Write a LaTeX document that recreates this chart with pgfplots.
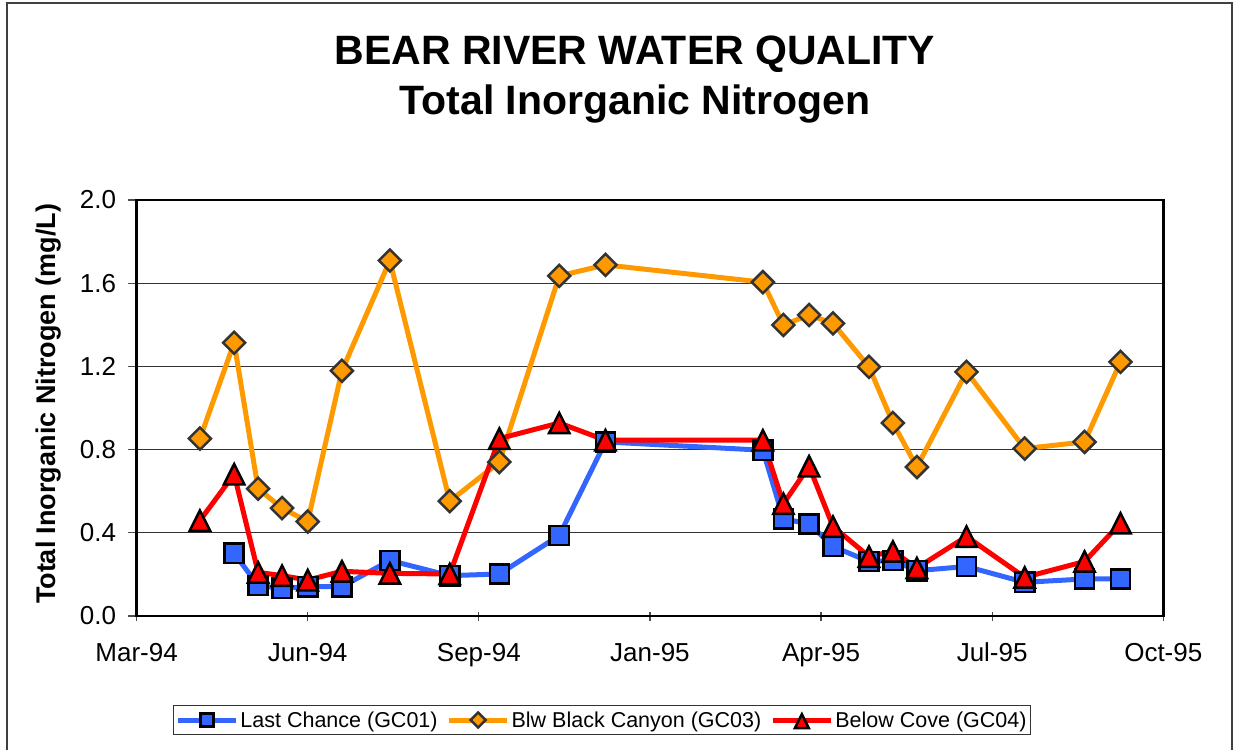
\documentclass[border=0pt]{standalone}
\usepackage{fontspec}
\setmainfont{Liberation Sans}
\usepackage{pgfplots}
\pgfplotsset{compat=1.18}
\definecolor{sblue}{HTML}{3366FF}
\definecolor{sorange}{HTML}{FF9900}
\definecolor{sred}{HTML}{FF0000}
\begin{document}
\begin{tikzpicture}[x=1pt,y=1pt]
\path[use as bounding box] (0,0) rectangle (1233,750);
\draw[line width=2pt, black!75] (6.5,0) -- (6.5,746.5) -- (1231.5,746.5) -- (1231.5,0);
\node[anchor=base, font=\fontsize{41}{46}\selectfont\bfseries] at (635,685) {BEAR RIVER WATER QUALITY};
\node[anchor=base, font=\fontsize{41}{46}\selectfont\bfseries] at (635,635) {Total Inorganic Nitrogen};
\node[rotate=90, anchor=center, font=\fontsize{27}{30}\selectfont\bfseries] at (49,346) {Total Inorganic Nitrogen (mg/L)};
\begin{axis}[
  at={(136.6pt,134pt)}, anchor=south west,
  width=1026.7pt, height=416pt, scale only axis,
  xmin=0, xmax=600, ymin=0, ymax=2.0,
  xtick={0,100,...,600},
  xticklabels={Mar-94,Jun-94,Sep-94,Jan-95,Apr-95,Jul-95,Oct-95},
  ytick={0,0.4,...,2.01},
  yticklabel style={/pgf/number format/fixed,/pgf/number format/fixed zerofill,/pgf/number format/precision=1, xshift=-8pt},
  /pgf/number format/assume math mode=true,
  tick label style={font=\fontsize{26}{30}\selectfont},
  axis line style={line width=2.5pt, black},
  ymajorgrids, grid style={line width=1.2pt, black!80},
  major tick length=9pt,
  tick pos=left,
  xtick align=center, ytick align=outside,
  tick style={line width=1.3pt, black!70},
  xticklabel style={text height=18.6pt, text depth=0pt, yshift=-18.8pt},
  legend columns=3,
  legend style={at={(0.4533,-0.25)}, anchor=center, draw=black!80, line width=1.5pt,
    font=\fontsize{21.5}{24}\selectfont, inner xsep=2pt, inner ysep=4pt,
    /tikz/every even column/.append style={column sep=7pt}},
  legend image code/.code={\draw[mark repeat=2,mark phase=2,every mark/.append style={scale=0.68}] plot coordinates {(0pt,0pt) (29pt,0pt) (58pt,0pt)};},
]
\addplot[color=sblue, line width=5pt, mark=square*, mark size=9.6pt,
  mark options={fill=sblue, draw=black, line width=2.5pt}] coordinates {
(57,0.302) (71,0.146) (85,0.133) (100,0.141) (120,0.141) (148,0.267)
(183,0.194) (212,0.202) (247,0.387) (274,0.837) (366,0.797) (378,0.467)
(393,0.443) (407,0.334) (428,0.262) (442,0.267) (456,0.218) (485,0.238)
(519,0.162) (554,0.178) (575,0.178)};
\addlegendentry{Last Chance (GC01)}
\addplot[color=sorange, line width=5pt, mark=square*, mark size=7.8pt,
  mark options={fill=sorange, draw=black!80, line width=2.5pt, rotate=45}] coordinates {
(37,0.853) (57,1.314) (71,0.612) (85,0.519) (100,0.454) (120,1.179) (148,1.709)
(183,0.552) (212,0.740) (247,1.635) (274,1.688) (366,1.605) (378,1.399)
(393,1.447) (407,1.407) (428,1.198) (442,0.928) (456,0.716) (485,1.174)
(519,0.805) (554,0.837) (575,1.222)};
\addlegendentry{Blw Black Canyon (GC03)}
\addplot[color=sred, line width=5pt, mark=triangle*, mark size=11.8pt,
  mark options={fill=sred, draw=black, line width=2.5pt, yscale=1.15, yshift=-3pt}] coordinates {
(37,0.459) (57,0.682) (71,0.210) (85,0.194) (100,0.173) (120,0.215) (148,0.205)
(183,0.202) (212,0.853) (247,0.928) (274,0.845) (366,0.845) (378,0.540)
(393,0.720) (407,0.430) (428,0.286) (442,0.311) (456,0.231) (485,0.382)
(519,0.186) (554,0.262) (575,0.446)};
\addlegendentry{Below Cove (GC04)}
\end{axis}
\end{tikzpicture}
\end{document}
